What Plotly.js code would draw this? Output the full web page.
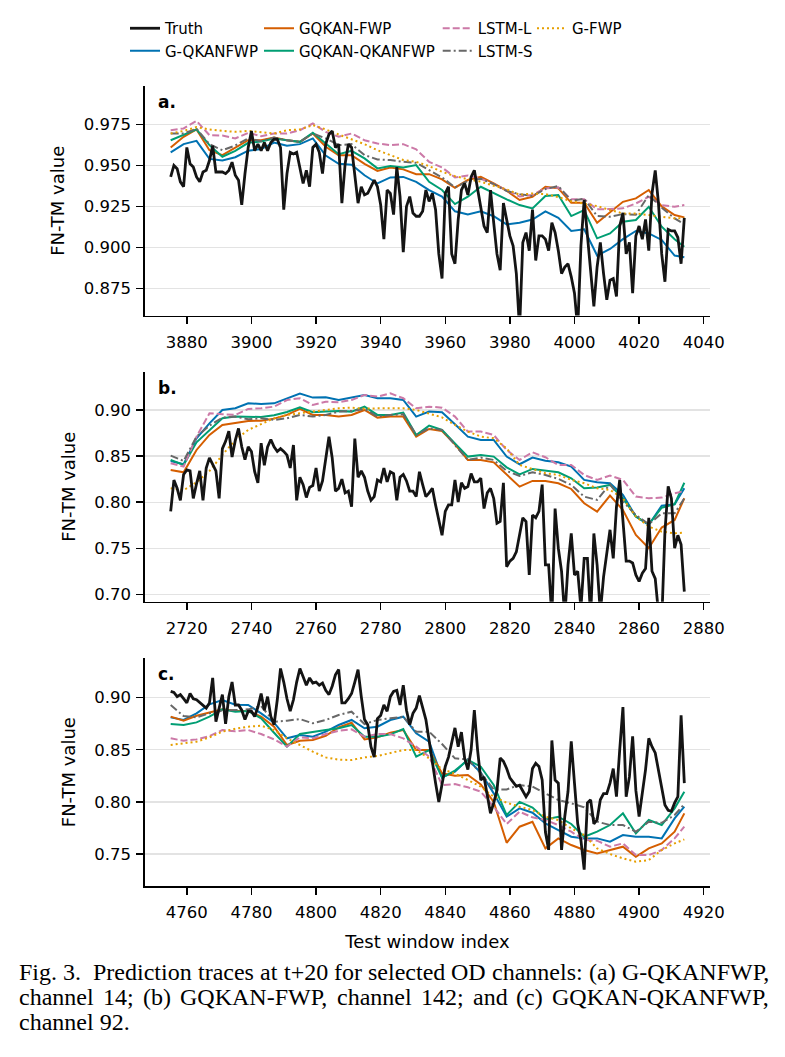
<!DOCTYPE html>
<html>
<head>
<meta charset="utf-8">
<script src="https://cdn.plot.ly/plotly-3.0.1.min.js"></script>
<style>
  html, body { margin: 0; padding: 0; background: #ffffff; }
  #chart { width: 785px; height: 1057px; }
</style>
</head>
<body>
<div id="chart"></div>
<script>
// ---------------------------------------------------------------
// Prediction traces at t+20 for three OD channels.
// Truth is one value per test window; model predictions are
// stored every 4th window (plus the final window).
// ---------------------------------------------------------------

// Panel a: G-QKANFWP, channel 14 (windows 3875..4034)
const startA = 3875;
const truthA = [
  0.943,0.950,0.948,0.940,0.937,0.961,0.951,0.949,0.943,0.940,
  0.946,0.947,0.953,0.962,0.946,0.946,0.946,0.945,0.947,0.952,
  0.944,0.941,0.926,0.945,0.961,0.971,0.959,0.963,0.959,0.964,
  0.959,0.964,0.966,0.966,0.961,0.923,0.945,0.958,0.957,0.958,
  0.949,0.939,0.947,0.937,0.961,0.963,0.958,0.945,0.963,0.969,
  0.971,0.961,0.963,0.927,0.951,0.963,0.961,0.943,0.927,0.937,
  0.932,0.933,0.937,0.941,0.937,0.926,0.905,0.935,0.933,0.920,
  0.949,0.931,0.897,0.925,0.931,0.921,0.919,0.919,0.922,0.935,
  0.928,0.933,0.923,0.896,0.881,0.933,0.937,0.896,0.890,0.917,
  0.935,0.939,0.932,0.943,0.947,0.935,0.925,0.913,0.909,0.935,
  0.915,0.896,0.886,0.927,0.917,0.907,0.901,0.884,0.850,0.903,
  0.909,0.898,0.923,0.892,0.907,0.907,0.905,0.898,0.915,0.909,
  0.898,0.884,0.888,0.890,0.882,0.872,0.850,0.901,0.929,0.907,
  0.884,0.864,0.888,0.903,0.884,0.868,0.880,0.881,0.870,0.913,
  0.921,0.896,0.903,0.872,0.907,0.913,0.905,0.917,0.898,0.933,
  0.947,0.927,0.896,0.879,0.911,0.910,0.910,0.906,0.890,0.918
];
const gqkanfwpA = [0.958,0.963,0.965,0.954,0.953,0.955,0.959,0.960,0.964,0.962,0.963,0.9665,0.956,0.951,0.9505,0.944,0.939,0.9427,0.943,0.940,0.935,
  0.931,0.922,0.920,0.922,0.919,0.914,0.915,0.917,0.922,0.918,0.910,0.911,0.895,0.899,0.905,0.910,0.9085,0.9045,0.895,0.894];
const gqkanFwpA = [0.961,0.9675,0.972,0.9593,0.9563,0.961,0.9654,0.9654,0.967,0.9654,0.9644,0.9695,0.9614,0.9563,0.9563,0.951,0.9467,0.9488,0.9476,0.9447,0.9447,
  0.9415,0.9364,0.9411,0.9431,0.939,0.9346,0.9289,0.9309,0.937,0.936,0.9272,0.9272,0.915,0.9217,0.9278,0.9299,0.935,0.925,0.9197,0.9183];
const gqkanQkanA = [0.9654,0.9685,0.972,0.9624,0.9553,0.9589,0.9638,0.9646,0.9665,0.9654,0.9644,0.9699,0.9634,0.9569,0.9589,0.9543,0.9482,0.9496,0.9488,0.9502,0.940,
  0.935,0.9264,0.9309,0.937,0.9329,0.9293,0.9258,0.9238,0.9313,0.932,0.9191,0.9228,0.9055,0.9085,0.9157,0.9167,0.9248,0.9126,0.9049,0.9004];
const lstmLA = [0.9715,0.9726,0.9772,0.9685,0.9683,0.9665,0.9699,0.9679,0.9695,0.9695,0.9715,0.9756,0.9705,0.9675,0.9695,0.9654,0.9634,0.9624,0.963,0.9598,0.9522,
  0.9488,0.9427,0.9439,0.9419,0.9386,0.9348,0.9311,0.932,0.936,0.9366,0.9293,0.9293,0.9232,0.9234,0.9238,0.9268,0.9309,0.9258,0.9248,0.9258];
const lstmSA = [0.9695,0.9695,0.9724,0.963,0.9593,0.9622,0.9665,0.9648,0.967,0.9654,0.9644,0.9695,0.9665,0.9624,0.963,0.9563,0.9537,0.9533,0.9522,0.9516,0.9472,
  0.9427,0.9366,0.9405,0.9419,0.9386,0.9344,0.9325,0.9313,0.9356,0.9374,0.9285,0.9297,0.9191,0.9187,0.9203,0.9199,0.9319,0.9242,0.9177,0.9142];
const gFwpA = [0.9695,0.9711,0.9734,0.972,0.9711,0.9705,0.9711,0.9701,0.9695,0.9715,0.972,0.9746,0.972,0.9689,0.9659,0.963,0.9593,0.9561,0.9533,0.9522,0.9496,
  0.9461,0.9435,0.9415,0.9401,0.9376,0.9354,0.9321,0.9329,0.9325,0.9307,0.9281,0.9268,0.9252,0.9228,0.9207,0.9207,0.9199,0.9187,0.9177,0.9177];

// Panel b: GQKAN-FWP, channel 142 (windows 2715..2874)
const startB = 2715;
const truthB = [
  0.790,0.824,0.815,0.802,0.830,0.835,0.834,0.804,0.820,0.834,
  0.802,0.837,0.848,0.840,0.834,0.804,0.858,0.866,0.877,0.849,
  0.867,0.880,0.860,0.846,0.860,0.855,0.833,0.821,0.864,0.840,
  0.860,0.868,0.860,0.855,0.858,0.855,0.851,0.837,0.862,0.802,
  0.827,0.819,0.805,0.816,0.818,0.837,0.812,0.823,0.850,0.871,
  0.848,0.812,0.815,0.825,0.810,0.812,0.795,0.869,0.827,0.834,
  0.827,0.812,0.802,0.806,0.824,0.822,0.837,0.822,0.833,0.831,
  0.802,0.827,0.830,0.823,0.812,0.812,0.806,0.833,0.819,0.806,
  0.810,0.815,0.797,0.782,0.764,0.790,0.797,0.797,0.824,0.800,
  0.821,0.815,0.817,0.831,0.822,0.822,0.826,0.793,0.810,0.815,
  0.804,0.777,0.779,0.821,0.730,0.736,0.739,0.746,0.764,0.783,
  0.779,0.721,0.786,0.783,0.790,0.819,0.732,0.732,0.675,0.793,
  0.750,0.725,0.675,0.732,0.766,0.721,0.725,0.685,0.739,0.739,
  0.675,0.766,0.732,0.680,0.719,0.743,0.770,0.739,0.795,0.824,
  0.779,0.736,0.736,0.734,0.721,0.714,0.723,0.728,0.783,0.725,
  0.717,0.680,0.670,0.768,0.817,0.804,0.750,0.764,0.754,0.703
];
const gqkanfwpB = [0.8447,0.8411,0.8693,0.8855,0.900,0.9018,0.9072,0.9065,0.9072,0.9127,0.9177,0.9134,0.9137,0.9108,0.9134,0.9163,0.9127,0.9127,0.9108,0.8928,0.8982,
  0.8975,0.8845,0.8711,0.8675,0.8675,0.8494,0.8411,0.8483,0.845,0.8432,0.8385,0.8241,0.8215,0.8205,0.8078,0.7843,0.7753,0.7962,0.7977,0.815];
const gqkanFwpB = [0.8349,0.8324,0.8566,0.8729,0.8837,0.8855,0.8881,0.8884,0.8906,0.8946,0.9011,0.8946,0.8946,0.8928,0.8946,0.900,0.8917,0.8928,0.8928,0.8711,0.8794,
  0.8772,0.8628,0.8458,0.8458,0.8432,0.8295,0.8168,0.823,0.823,0.8205,0.8143,0.7988,0.7897,0.8071,0.7915,0.7644,0.750,0.7724,0.7807,0.8042];
const gqkanQkanB = [0.8458,0.8403,0.8649,0.8783,0.891,0.8928,0.8924,0.8924,0.8942,0.8978,0.9029,0.8975,0.8982,0.8989,0.8982,0.9036,0.8946,0.8946,0.8971,0.8729,0.883,
  0.8783,0.8638,0.8494,0.8512,0.8494,0.8378,0.8302,0.836,0.8342,0.8324,0.8259,0.815,0.8158,0.8187,0.8042,0.7843,0.776,0.794,0.7977,0.821];
const lstmLB = [0.8422,0.8385,0.8711,0.8964,0.8953,0.8946,0.9011,0.9018,0.9036,0.9108,0.9127,0.9054,0.909,0.9083,0.9108,0.9163,0.9145,0.9181,0.9127,0.9018,0.9036,
  0.9025,0.8928,0.8765,0.8765,0.8729,0.8566,0.8458,0.8541,0.8487,0.8403,0.8403,0.8295,0.8241,0.8288,0.8241,0.806,0.8042,0.8049,0.8096,0.8121];
const lstmSB = [0.8505,0.8447,0.8711,0.883,0.8917,0.8928,0.8899,0.891,0.8892,0.891,0.8946,0.8928,0.8946,0.8982,0.8989,0.9011,0.8928,0.8946,0.8953,0.8729,0.8801,
  0.8783,0.862,0.8458,0.8483,0.8458,0.8338,0.8284,0.8324,0.8295,0.8252,0.8187,0.806,0.8024,0.8194,0.8006,0.7861,0.776,0.7879,0.7879,0.8042];
const gFwpB = [0.815,0.8129,0.8215,0.8338,0.8512,0.8675,0.8783,0.8845,0.891,0.8946,0.8964,0.8975,0.900,0.9018,0.9025,0.9014,0.9018,0.9018,0.9018,0.900,0.8964,
  0.892,0.8837,0.8765,0.8711,0.8693,0.8584,0.8403,0.836,0.8313,0.8295,0.8241,0.8205,0.815,0.8132,0.8042,0.7843,0.7735,0.768,0.7662,0.767];

// Panel c: GQKAN-QKANFWP, channel 92 (windows 4755..4914)
const startC = 4755;
const truthC = [
  0.906,0.905,0.901,0.903,0.899,0.895,0.904,0.899,0.898,0.895,
  0.893,0.890,0.895,0.919,0.877,0.890,0.903,0.875,0.901,0.915,
  0.893,0.893,0.888,0.879,0.887,0.887,0.882,0.891,0.904,0.888,
  0.901,0.882,0.874,0.898,0.928,0.915,0.899,0.887,0.898,0.915,
  0.928,0.920,0.912,0.919,0.914,0.915,0.912,0.914,0.907,0.903,
  0.911,0.922,0.927,0.895,0.895,0.899,0.904,0.915,0.927,0.901,
  0.879,0.874,0.853,0.843,0.880,0.883,0.893,0.887,0.901,0.906,
  0.907,0.893,0.912,0.888,0.874,0.885,0.890,0.902,0.890,0.879,
  0.859,0.837,0.818,0.800,0.818,0.834,0.843,0.856,0.871,0.853,
  0.867,0.842,0.831,0.850,0.888,0.850,0.821,0.824,0.805,0.789,
  0.799,0.811,0.842,0.839,0.832,0.823,0.819,0.815,0.816,0.811,
  0.805,0.810,0.832,0.837,0.834,0.821,0.771,0.754,0.859,0.821,
  0.818,0.754,0.786,0.810,0.858,0.818,0.779,0.763,0.735,0.799,
  0.802,0.779,0.783,0.802,0.808,0.808,0.818,0.832,0.805,0.850,
  0.891,0.805,0.824,0.863,0.811,0.786,0.808,0.831,0.861,0.853,
  0.847,0.831,0.815,0.797,0.792,0.791,0.799,0.805,0.883,0.818
];
const gqkanfwpC = [0.8811,0.8786,0.885,0.8936,0.8978,0.8933,0.893,0.885,0.876,0.861,0.8642,0.8626,0.8674,0.8738,0.8786,0.8706,0.8722,0.8786,0.8818,0.8658,0.8578,
  0.8235,0.829,0.8408,0.828,0.8082,0.7858,0.7938,0.7896,0.7794,0.773,0.7666,0.765,0.765,0.7618,0.7682,0.7666,0.7666,0.765,0.7842,0.7954];
const gqkanFwpC = [0.8818,0.8779,0.8827,0.8856,0.8888,0.8875,0.8872,0.8818,0.8722,0.8546,0.8587,0.8594,0.8635,0.8715,0.876,0.860,0.8619,0.8664,0.869,0.8498,0.8498,
  0.8274,0.8251,0.8258,0.8168,0.800,0.7608,0.7762,0.781,0.7554,0.765,0.7586,0.7538,0.7506,0.7538,0.757,0.7474,0.7554,0.7602,0.7714,0.789];
const gqkanQkanC = [0.8747,0.8738,0.8763,0.8818,0.8888,0.8866,0.8872,0.8802,0.8664,0.853,0.8651,0.8674,0.869,0.8706,0.8738,0.8626,0.8626,0.8648,0.8699,0.8434,0.8498,
  0.8232,0.830,0.8402,0.8338,0.8162,0.7874,0.800,0.7946,0.7832,0.7858,0.7788,0.7666,0.7714,0.7778,0.789,0.7698,0.7826,0.7778,0.7938,0.8098];
const lstmLC = [0.861,0.8587,0.860,0.8632,0.869,0.8677,0.869,0.8651,0.860,0.853,0.8619,0.861,0.8651,0.8683,0.8696,0.8626,0.8651,0.8651,0.861,0.853,0.8434,
  0.8162,0.8171,0.814,0.8098,0.7954,0.7788,0.7906,0.7852,0.7826,0.7778,0.7714,0.7634,0.7628,0.757,0.7602,0.749,0.749,0.7538,0.765,0.7762];
const lstmSC = [0.893,0.8824,0.8811,0.885,0.8875,0.8882,0.8888,0.892,0.877,0.8779,0.8795,0.8754,0.8786,0.8834,0.8866,0.8747,0.8786,0.8802,0.8818,0.8674,0.8674,
  0.8555,0.8418,0.8408,0.8274,0.812,0.812,0.8162,0.8146,0.8082,0.8018,0.7986,0.7948,0.781,0.7778,0.7778,0.7714,0.781,0.780,0.7874,0.798];
const gFwpC = [0.8546,0.8559,0.8578,0.8619,0.8674,0.8702,0.8722,0.8731,0.869,0.861,0.8546,0.8482,0.8427,0.8405,0.8402,0.8427,0.844,0.8469,0.8498,0.8498,0.8418,
  0.8315,0.8271,0.821,0.8146,0.805,0.7992,0.7954,0.7922,0.7858,0.7826,0.7746,0.7682,0.7554,0.750,0.7458,0.7426,0.7442,0.7538,0.7602,0.764];

const panelLabels = ['a.', 'b.', 'c.'];
const yTickFormats = ['.3f', '.2f', '.2f'];
const yTickSteps = [0.025, 0.05, 0.05];
const xTickStep = 20;

// Caption: lines 1 and 2 are set justified, line 3 is left aligned
const captionJustified = [
  'Fig. 3.\u00a0 Prediction traces at t+20 for selected OD channels: (a) G-QKANFWP,',
  'channel 14; (b) GQKAN-FWP, channel 142; and (c) GQKAN-QKANFWP,'
];
const captionLast = 'channel 92.';

// ---------------------------------------------------------------
// Series styling
// ---------------------------------------------------------------
const FONT = 'DejaVu Sans, Verdana, sans-serif';
const models = [
  { name: 'G-QKANFWP',     color: '#0072B2', dash: 'solid',             legend: 'legend',  rank: 2 },
  { name: 'GQKAN-FWP',     color: '#D55E00', dash: 'solid',             legend: 'legend2', rank: 1 },
  { name: 'GQKAN-QKANFWP', color: '#009E73', dash: 'solid',             legend: 'legend2', rank: 2 },
  { name: 'LSTM-L',        color: '#CC79A7', dash: '7px,3px',           legend: 'legend3', rank: 1 },
  { name: 'LSTM-S',        color: '#686868', dash: '8px,3px,2px,3px',   legend: 'legend3', rank: 2 },
  { name: 'G-FWP',         color: '#E69F00', dash: '2px,3px',           legend: 'legend4', rank: 1 }
];

const panels = [
  { start: startA, truth: truthA, preds: [gqkanfwpA, gqkanFwpA, gqkanQkanA, lstmLA, lstmSA, gFwpA], yr: [0.8584, 0.9985] },
  { start: startB, truth: truthB, preds: [gqkanfwpB, gqkanFwpB, gqkanQkanB, lstmLB, lstmSB, gFwpB], yr: [0.692, 0.9415] },
  { start: startC, truth: truthC, preds: [gqkanfwpC, gqkanFwpC, gqkanQkanC, lstmLC, lstmSC, gFwpC], yr: [0.7193, 0.9378] }
];

// window indices for the truth (every window) and predictions (every 4th + last)
function truthWindows(start, n) { return Array.from({ length: n }, (_, i) => start + i); }
function predWindows(start, nTruth) {
  const xs = [];
  for (let k = 0; k < 40; k++) xs.push(start + 4 * k);
  xs.push(start + nTruth - 1);
  return xs;
}

// ---------------------------------------------------------------
// Build traces
// ---------------------------------------------------------------
const traces = [];
panels.forEach((p, pi) => {
  const xa = pi === 0 ? 'x' : 'x' + (pi + 1);
  const ya = pi === 0 ? 'y' : 'y' + (pi + 1);
  const xp = predWindows(p.start, p.truth.length);
  models.forEach((m, mi) => {
    traces.push({
      type: 'scatter', mode: 'lines', name: m.name,
      x: xp, y: p.preds[mi], xaxis: xa, yaxis: ya,
      line: { color: m.color, width: 2.0, dash: m.dash },
      legend: m.legend, legendrank: m.rank,
      showlegend: pi === 0, hoverinfo: 'skip'
    });
  });
  traces.push({
    type: 'scatter', mode: 'lines', name: 'Truth',
    x: truthWindows(p.start, p.truth.length), y: p.truth, xaxis: xa, yaxis: ya,
    line: { color: '#141414', width: 2.8 },
    legend: 'legend', legendrank: 1,
    showlegend: pi === 0, hoverinfo: 'skip'
  });
});

// ---------------------------------------------------------------
// Layout: plot area spans x 145..710 px and y 86..886 px
// ---------------------------------------------------------------
const W = 785, H = 1057;
const M = { l: 145, r: 75, t: 86, b: 171 };
const plotW = W - M.l - M.r, plotH = H - M.t - M.b;
const px2x = px => (px - M.l) / plotW;
const py2y = py => (H - M.b - py) / plotH;

const domains = [[py2y(315.5), py2y(86)], [py2y(601.7), py2y(371.7)], [py2y(886), py2y(658.3)]];

function xAxis(pi) {
  const p = panels[pi];
  const n = p.truth.length;
  const pad = 0.05 * (n - 1);
  const ax = {
    domain: [0, 1], anchor: pi === 0 ? 'y' : 'y' + (pi + 1),
    range: [p.start - pad, p.start + n - 1 + pad],
    tick0: 0, dtick: xTickStep,
    showgrid: false, zeroline: false,
    showline: true, linecolor: '#000', linewidth: 1.6,
    ticks: 'outside', ticklen: 7, tickwidth: 1.4, tickcolor: '#000',
    tickfont: { family: FONT, size: 16.5, color: '#000' },
    ticklabelstandoff: 4
  };
  if (pi === 2) {
    ax.title = { text: 'Test window index', font: { family: FONT, size: 18, color: '#000' }, standoff: 14 };
  }
  return ax;
}
function yAxis(pi) {
  const p = panels[pi];
  return {
    domain: domains[pi], anchor: pi === 0 ? 'x' : 'x' + (pi + 1),
    range: p.yr, tick0: 0, dtick: yTickSteps[pi], tickformat: yTickFormats[pi],
    showgrid: true, gridcolor: '#e3e3e3', gridwidth: 1.2, zeroline: false,
    showline: true, linecolor: '#000', linewidth: 1.6,
    ticks: 'outside', ticklen: 7, tickwidth: 1.4, tickcolor: '#000',
    tickfont: { family: FONT, size: 16.5, color: '#000' },
    ticklabelstandoff: 2,
    title: { text: 'FN-TM value', font: { family: FONT, size: 18, color: '#000' }, standoff: 14 }
  };
}

const legendBase = {
  orientation: 'v', xanchor: 'left', yanchor: 'top',
  bgcolor: 'rgba(0,0,0,0)', borderwidth: 0, tracegroupgap: 0,
  font: { family: FONT, size: 15, color: '#000' }, traceorder: 'normal'
};
const legendTop = py2y(12);

const annotations = panelLabels.map((t, pi) => ({
  text: '<b>' + t + '</b>', showarrow: false,
  xref: (pi === 0 ? 'x' : 'x' + (pi + 1)) + ' domain',
  yref: (pi === 0 ? 'y' : 'y' + (pi + 1)) + ' domain',
  x: (156 - 145) / plotW, y: 1, xanchor: 'left', yanchor: 'middle', yshift: -16,
  font: { family: FONT, size: 17, color: '#000' }
}));

// ---------------------------------------------------------------
// Figure caption: words of full lines are spread across 18..768 px
// ---------------------------------------------------------------
const CAP_SIZE = 24;
const CAP_FAMILY = 'Liberation Serif, Times New Roman, serif';
const CAP_FONT = { family: CAP_FAMILY, size: CAP_SIZE, color: '#000' };
const capLeft = 18, capRight = 768, capY = [972, 997, 1022];
const ctx = document.createElement('canvas').getContext('2d');
ctx.font = CAP_SIZE + 'px "Liberation Serif", "Times New Roman", serif';

function addCaptionWord(text, xLeft, yPx) {
  annotations.push({
    text: text, showarrow: false, xref: 'paper', yref: 'paper',
    x: px2x(xLeft), y: py2y(yPx), xanchor: 'left', yanchor: 'middle',
    xshift: 0, font: CAP_FONT, borderpad: 0
  });
}
captionJustified.forEach((line, li) => {
  const words = line.split(' ');
  const widths = words.map(w => ctx.measureText(w).width);
  const total = widths.reduce((a, b) => a + b, 0);
  const gap = (capRight - capLeft - total) / (words.length - 1);
  let x = capLeft;
  words.forEach((w, i) => {
    addCaptionWord(w, x, capY[li]);
    x += widths[i] + gap;
  });
});
addCaptionWord(captionLast, capLeft, capY[2]);

const layout = {
  width: W, height: H, margin: M,
  paper_bgcolor: '#fff', plot_bgcolor: '#fff',
  font: { family: FONT, color: '#000' },
  xaxis: xAxis(0), yaxis: yAxis(0),
  xaxis2: xAxis(1), yaxis2: yAxis(1),
  xaxis3: xAxis(2), yaxis3: yAxis(2),
  legend:  Object.assign({}, legendBase, { x: px2x(125), y: legendTop }),
  legend2: Object.assign({}, legendBase, { x: px2x(259), y: legendTop }),
  legend3: Object.assign({}, legendBase, { x: px2x(437.7), y: legendTop }),
  legend4: Object.assign({}, legendBase, { x: px2x(532), y: legendTop }),
  annotations: annotations,
  showlegend: true
};

Plotly.newPlot('chart', traces, layout, { displayModeBar: false, staticPlot: true });
</script>
</body>
</html>
